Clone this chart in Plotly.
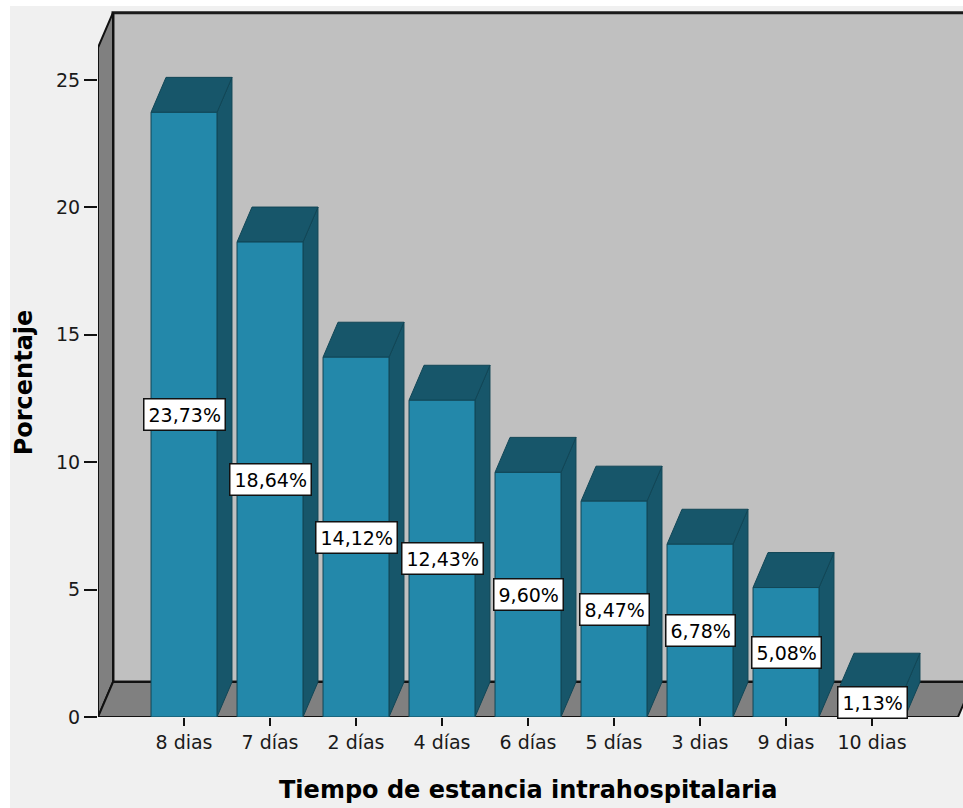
import plotly.graph_objects as go

# ---- data -------------------------------------------------------------
categories = ["8 dias", "7 días", "2 días", "4 días", "6 días",
              "5 días", "3 dias", "9 dias", "10 dias"]
percentages = [23.73, 18.64, 14.12, 12.43, 9.60, 8.47, 6.78, 5.08, 1.13]
y_ticks = [0, 5, 10, 15, 20, 25]

x_title = "Tiempo de estancia intrahospitalaria"
y_title = "Porcentaje"

# ---- geometry of the pseudo-3D frame ---------------------------------
W, H = 963, 808
MARGIN = dict(l=98, r=0, t=8, b=91)
plot_w = W - MARGIN["l"] - MARGIN["r"]
plot_h = H - MARGIN["t"] - MARGIN["b"]

PX_PER_CAT = 86.0          # pixels per category slot
PX_PER_UNIT = 25.48        # pixels per percentage point
X_LO = -1.0
X_HI = X_LO + plot_w / PX_PER_CAT
Y_HI = plot_h / PX_PER_UNIT

DEPTH_PX = (15, 35)        # back plane offset (right, up) in pixels
dxu = DEPTH_PX[0] / PX_PER_CAT
dyu = DEPTH_PX[1] / PX_PER_UNIT

AXIS_TOP = 26.27           # top of the value axis on the front plane
BAR_W = 0.767
N = len(categories)
x_idx = list(range(N))
FLOOR_R = N                # right edge of floor (front)

FRONT = "#2388aa"
DARK = "#17566a"
EDGE = "#114656"
WALL = "#c0c0c0"
SIDE = "#808080"
PANEL = "#f0f0f0"

fig = go.Figure()


def poly(xs, ys, fill, line_color="#111111", width=1.5):
    fig.add_trace(go.Scatter(
        x=xs, y=ys, mode="lines", fill="toself", fillcolor=fill,
        line=dict(color=line_color, width=width),
        hoverinfo="skip", showlegend=False))


# back wall
poly([X_LO + dxu, X_HI + 2, X_HI + 2, X_LO + dxu, X_LO + dxu],
     [dyu, dyu, AXIS_TOP + dyu, AXIS_TOP + dyu, dyu], WALL, "#1a1a1a", 3)
# left wall
poly([X_LO, X_LO, X_LO + dxu, X_LO + dxu, X_LO],
     [0, AXIS_TOP, AXIS_TOP + dyu, dyu, 0], SIDE, "#111111", 2)
# floor
poly([X_LO, FLOOR_R, FLOOR_R + dxu, X_LO + dxu, X_LO],
     [0, 0, dyu, dyu, 0], SIDE, "#111111", 2)

# bar faces (front, top, right side), built from the bar values
front_x, front_y = [], []
top_x, top_y, side_x, side_y = [], [], [], []
for i, v in zip(x_idx, percentages):
    l, r = i - BAR_W / 2, i + BAR_W / 2
    front_x += [l, r, r, l, l, None]
    front_y += [0, 0, v, v, 0, None]
    top_x += [l, r, r + dxu, l + dxu, l, None]
    top_y += [v, v, v + dyu, v + dyu, v, None]
    side_x += [r, r + dxu, r + dxu, r, r, None]
    side_y += [0, dyu, v + dyu, v, 0, None]

for xs, ys, col in ((side_x, side_y, DARK), (top_x, top_y, DARK),
                    (front_x, front_y, FRONT)):
    fig.add_trace(go.Scatter(
        x=xs, y=ys, mode="lines", fill="toself", fillcolor=col,
        line=dict(color=EDGE, width=1), hoverinfo="skip", showlegend=False))

# value labels at half height of each bar
annotations = []
for i, v in zip(x_idx, percentages):
    annotations.append(dict(
        x=i, y=v / 2, xref="x", yref="y",
        text=f"{v:.2f}%".replace(".", ","), showarrow=False,
        font=dict(family="DejaVu Sans", size=19, color="#000000"),
        bgcolor="#ffffff", bordercolor="#111111", borderwidth=1.5,
        borderpad=4, xanchor="center", yanchor="middle"))

# axis titles
annotations.append(dict(
    text=y_title, textangle=-90, showarrow=False,
    xref="paper", yref="y",
    x=(24 - MARGIN["l"]) / plot_w, y=AXIS_TOP / 2,
    xanchor="center", yanchor="middle",
    font=dict(family="DejaVu Sans", size=24, color="#000000", weight="bold")))
annotations.append(dict(
    text=x_title, showarrow=False, xref="paper", yref="paper",
    x=(528 - MARGIN["l"]) / plot_w,
    y=-(790 - (H - MARGIN["b"])) / plot_h,
    xanchor="center", yanchor="middle",
    font=dict(family="DejaVu Sans", size=24, color="#000000", weight="bold")))

# light panel behind the chart
panel = dict(
    type="rect", xref="paper", yref="paper", layer="below",
    x0=(10 - MARGIN["l"]) / plot_w, x1=1.2,
    y0=-0.3, y1=1 + (MARGIN["t"] - 6) / plot_h,
    fillcolor=PANEL, line=dict(width=0))

fig.update_layout(
    width=W, height=H, autosize=False, margin=MARGIN,
    paper_bgcolor="#ffffff", plot_bgcolor=PANEL,
    shapes=[panel], annotations=annotations,
    xaxis=dict(range=[X_LO, X_HI], tickvals=x_idx, ticktext=categories,
               ticks="outside", ticklen=8, tickwidth=2, tickcolor="#111111",
               showgrid=False, zeroline=False, showline=False,
               tickfont=dict(family="DejaVu Sans", size=19, color="#1a1a1a"),
               fixedrange=True),
    yaxis=dict(range=[0, Y_HI], tickvals=y_ticks,
               ticks="outside", ticklen=13, tickwidth=2, tickcolor="#111111",
               showgrid=False, zeroline=False, showline=False,
               tickfont=dict(family="DejaVu Sans", size=19, color="#1a1a1a"),
               fixedrange=True),
)

fig.write_html("out.html")
